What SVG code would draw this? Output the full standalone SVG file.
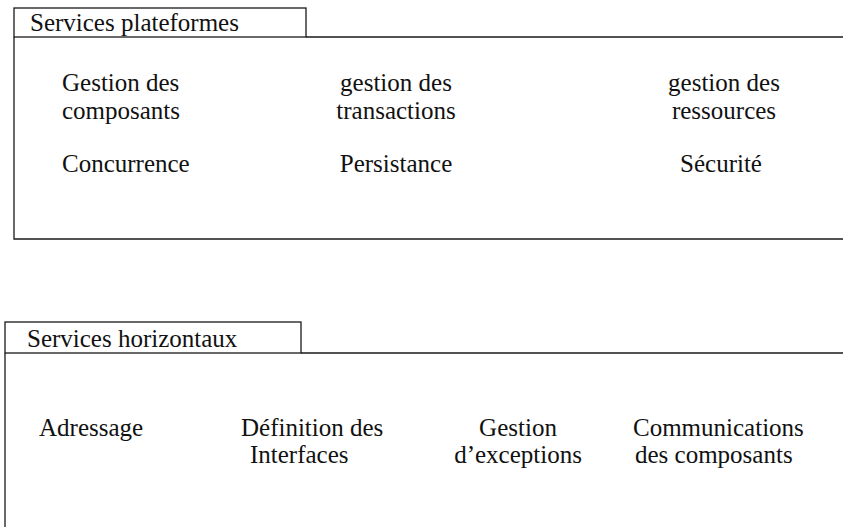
<svg xmlns="http://www.w3.org/2000/svg" width="843" height="527" viewBox="0 0 843 527">
<style>
.ln{fill:none;stroke:#1a1a1a;stroke-width:1.3}
.t{font-family:"Liberation Serif","Times New Roman",serif;font-size:25px;fill:#111}
.m{text-anchor:middle}
</style>
<rect width="843" height="527" fill="#fff"/>
<g id="services-plateformes">
<rect class="ln" x="14" y="8" width="292" height="29"/>
<path class="ln" d="M306 37 H843 M14 37 V239 H843"/>
<text class="t" x="30" y="31">Services plateformes</text>
<g id="gestion-composants"><text class="t" x="62" y="91">Gestion des</text><text class="t" x="62" y="119">composants</text></g>
<g id="gestion-transactions"><text class="t m" x="396" y="91">gestion des</text><text class="t m" x="396" y="119">transactions</text></g>
<g id="gestion-ressources"><text class="t m" x="724" y="91">gestion des</text><text class="t m" x="724" y="119">ressources</text></g>
<g id="concurrence"><text class="t" x="62" y="172">Concurrence</text></g>
<g id="persistance"><text class="t m" x="396" y="172">Persistance</text></g>
<g id="securite"><text class="t m" x="721" y="172">Sécurité</text></g>
</g>
<g id="services-horizontaux">
<rect class="ln" x="5" y="322" width="296" height="31"/>
<path class="ln" d="M301 353 H843 M5 353 V527"/>
<text class="t" x="27" y="347">Services horizontaux</text>
<g id="adressage"><text class="t" x="39" y="436">Adressage</text></g>
<g id="definition-interfaces"><text class="t" x="241" y="436">Définition des</text><text class="t" x="250" y="463">Interfaces</text></g>
<g id="gestion-exceptions"><text class="t m" x="518" y="436">Gestion</text><text class="t m" x="518" y="463">d’exceptions</text></g>
<g id="communications-composants"><text class="t" x="633" y="436">Communications</text><text class="t" x="635" y="463">des composants</text></g>
</g>
<g id="connectors"></g>
</svg>
